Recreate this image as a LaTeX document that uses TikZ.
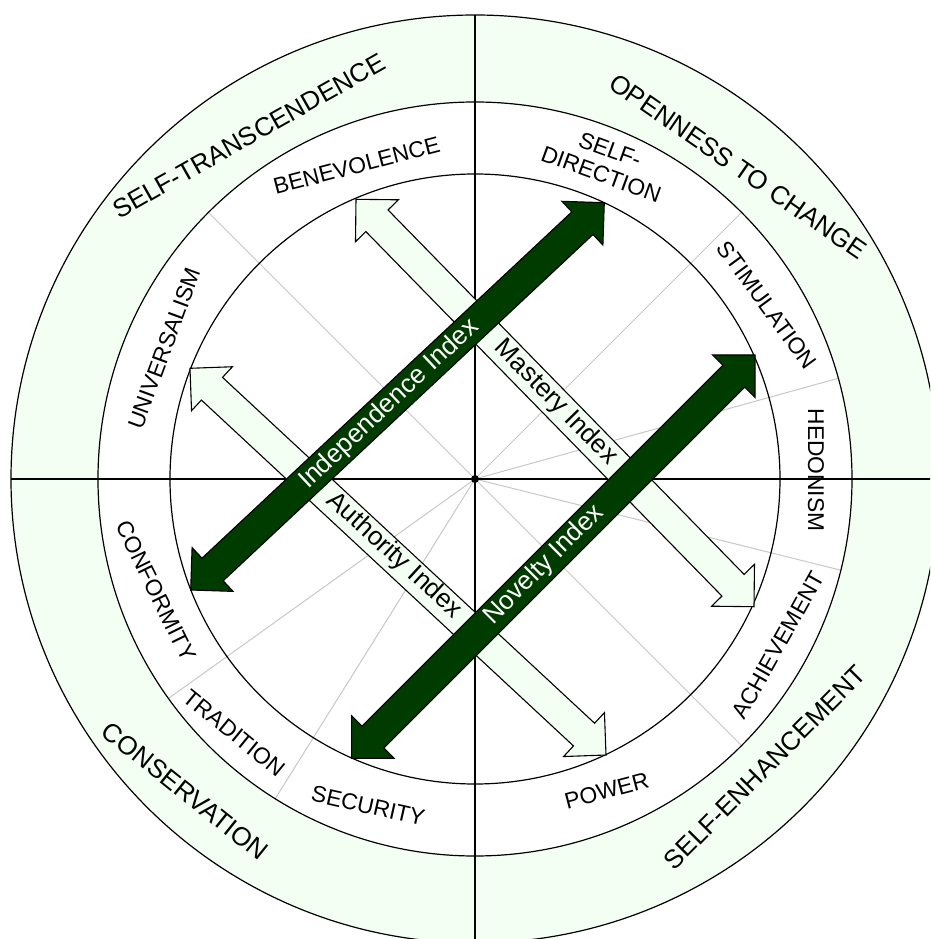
\documentclass[tikz,border=0pt]{standalone}
\usepackage{fontspec}
\setmainfont{Liberation Sans}
\usetikzlibrary{calc}
\definecolor{ringgreen}{RGB}{244,255,244}
\definecolor{darkgreen}{RGB}{0,60,0}
\definecolor{spoke}{RGB}{200,200,200}
\tikzset{
  outerlbl/.style={font=\fontsize{26}{30}\selectfont, inner sep=0pt},
  valuelbl/.style={font=\fontsize{22.8}{26}\selectfont, inner sep=0pt, align=center},
  idxlbl/.style={font=\fontsize{26}{28}\selectfont, inner sep=0pt},
  circ/.style={draw=black, line width=1.2pt},
  axisline/.style={draw=black, line width=2pt},
  spokeline/.style={draw=spoke, line width=1pt},
  lightarrow/.style={draw=black, line width=1.1pt, fill=ringgreen, line join=miter},
  darkarrow/.style={draw=black, line width=1.1pt, fill=darkgreen, line join=miter},
}
\newcommand{\dblarrow}[3]{%
  \path[#1] (#2)
    -- ($(#2)!30pt!(#3)!30pt!90:(#3)$)
    -- ($(#2)!30pt!(#3)!15.5pt!90:(#3)$)
    -- ($(#3)!30pt!(#2)!15.5pt!-90:(#2)$)
    -- ($(#3)!30pt!(#2)!30pt!-90:(#2)$)
    -- (#3)
    -- ($(#3)!30pt!(#2)!30pt!90:(#2)$)
    -- ($(#3)!30pt!(#2)!15.5pt!90:(#2)$)
    -- ($(#2)!30pt!(#3)!15.5pt!-90:(#3)$)
    -- ($(#2)!30pt!(#3)!30pt!-90:(#3)$)
    -- cycle;
}
\begin{document}
\begin{tikzpicture}[x=1pt,y=1pt]
\useasboundingbox (-475,-460) rectangle (455,479);
\clip (-475,-460) rectangle (455,479);
\fill[white] (-475,-460) rectangle (455,479);
% outer ring fill
\fill[ringgreen, even odd rule] (0,0) circle (464pt) (0,0) circle (377pt);
% centre
\coordinate (ctr) at (0,0);
% spokes
\foreach \a in {135,45,15.5,-14,-45,-144.4,-122}{
  \draw[spokeline] (ctr) -- (\a:377);
}
% circles
\draw[circ] (ctr) circle (464pt);
\draw[circ] (ctr) circle (377pt);
\draw[circ] (ctr) circle (305pt);
% axes
\coordinate (axW) at (180:464);
\coordinate (axE) at (0:464);
\coordinate (axN) at (90:464);
\coordinate (axS) at (-90:464);
\draw[axisline] (axW) -- (axE);
\draw[axisline] (axN) -- (axS);
\node[circle, fill=black, inner sep=0pt, minimum size=8pt] (dot) at (ctr) {};
% outer labels
\node[outerlbl, rotate=29.4] (stlbl) at (123.4:411) {SELF-TRANSCENDENCE};
\node[outerlbl, rotate=-34.6] (oclbl) at (49.9:408.5) {OPENNESS TO CHANGE};
\node[outerlbl, rotate=-38.7] (cslbl) at (-132.9:426) {CONSERVATION};
\node[outerlbl, rotate=45.2] (selbl) at (-44.85:409) {SELF-ENHANCEMENT};
% value labels
\node[valuelbl, rotate=14.6] (benev) at (110.7:335) {BENEVOLENCE};
\node[valuelbl, rotate=69.7] (univ) at (157.2:337) {UNIVERSALISM};
\node[valuelbl, rotate=-20] (selfdir) at (67.6:343) {SELF-\\DIRECTION};
\node[valuelbl, rotate=-53.7] (stim) at (30.75:340) {STIMULATION};
\node[valuelbl, rotate=-90] (hedon) at (1.5:341) {HEDONISM};
\node[valuelbl, rotate=60.6] (achiev) at (-28.7:345.8) {ACHIEVEMENT};
\node[valuelbl, rotate=14.7] (power) at (-67.1:338.5) {POWER};
\node[valuelbl, rotate=-12.6] (secur) at (-108.1:343.8) {SECURITY};
\node[valuelbl, rotate=-39.2] (trad) at (-133.4:350) {TRADITION};
\node[valuelbl, rotate=-63.8] (conf) at (-160.7:338) {CONFORMITY};
% arrow end points
\coordinate (masA) at (-119,279.7);
\coordinate (masB) at (279,-127.7);
\coordinate (autA) at (-285,110.7);
\coordinate (autB) at (131,-276);
\coordinate (indA) at (-284.3,-111);
\coordinate (indB) at (129.3,276.3);
\coordinate (novA) at (-123.3,-279.3);
\coordinate (novB) at (280,124);
% light arrows
\dblarrow{lightarrow}{masA}{masB}
\dblarrow{lightarrow}{autA}{autB}
\node[idxlbl, rotate=-45.5] (maslbl) at (80.8,76.5) {Mastery Index};
\node[idxlbl, rotate=-42.5] (autlbl) at (-80.8,-76.8) {Authority Index};
% dark arrows
\dblarrow{darkarrow}{indA}{indB}
\dblarrow{darkarrow}{novA}{novB}
\node[idxlbl, text=white, rotate=43.3] (indlbl) at (-85.8,74.8) {Independence Index};
\node[idxlbl, text=white, rotate=45] (novlbl) at (69.2,-86) {Novelty Index};
\end{tikzpicture}
\end{document}
